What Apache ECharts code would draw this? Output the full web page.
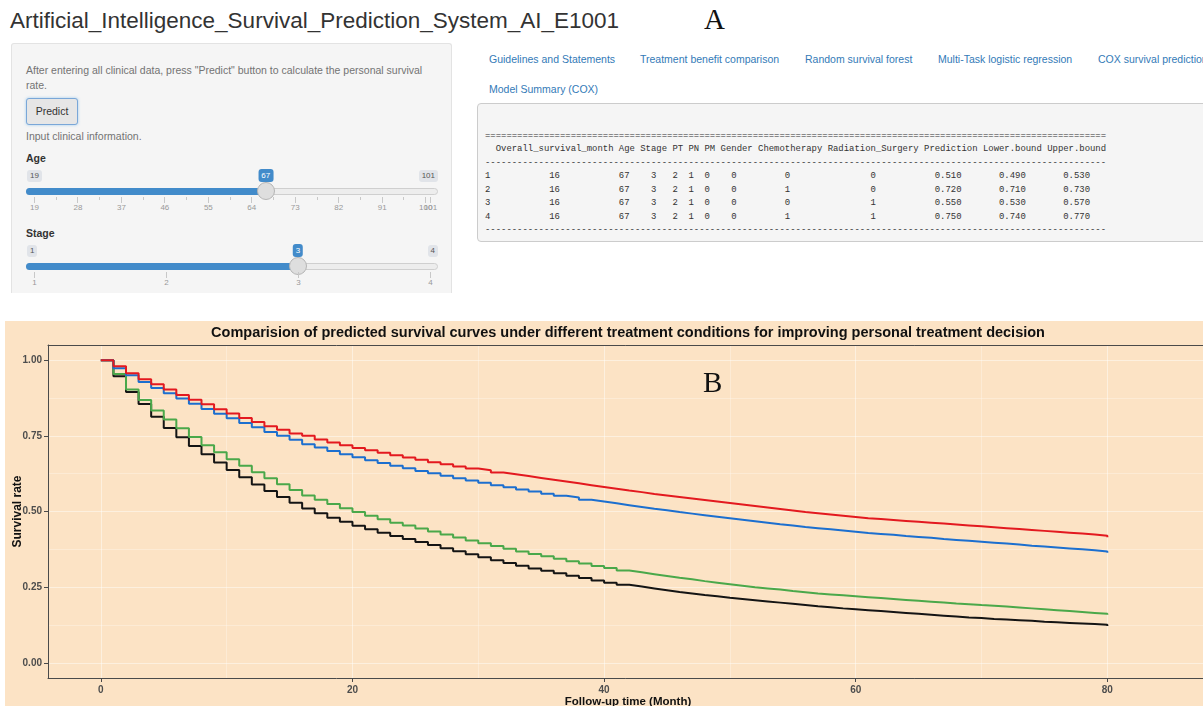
<!DOCTYPE html>
<html><head><meta charset="utf-8">
<script src="https://cdn.jsdelivr.net/npm/echarts@6/dist/echarts.min.js"></script>
<style>
html,body{margin:0;padding:0;background:#fff;width:1203px;height:706px;overflow:hidden;font-family:"Liberation Sans",Arial,sans-serif;}
.abs{position:absolute;white-space:nowrap;}
#pageTitle{left:10px;top:6px;font-size:22.5px;color:#333;line-height:30px;}
.letter{font-family:"Liberation Serif","Times New Roman",serif;font-size:29px;color:#111;line-height:32px;}
#well{left:11px;top:43px;width:441px;height:250px;background:#f5f5f5;border:1px solid #e3e3e3;border-bottom:none;border-radius:3px 3px 0 0;box-sizing:border-box;}
.help{color:#737373;font-size:10.5px;line-height:15px;}
.lbl{color:#333;font-size:10.5px;font-weight:bold;line-height:14px;}
#predict{left:26px;top:98px;width:52px;height:27px;box-sizing:border-box;border:1px solid #7aa7d8;border-radius:3px;background:#e6e6e6;color:#333;font-size:10.5px;line-height:25px;text-align:center;box-shadow:0 0 3px rgba(102,175,233,.6);}
.tab{color:#337ab7;font-size:10.5px;line-height:14px;}
#out{left:477px;top:103px;width:760px;height:139px;background:#f5f5f5;border:1px solid #ccc;border-radius:4px;box-sizing:border-box;}
#pre{left:485px;top:129.5px;margin:0;font-family:"Liberation Mono","DejaVu Sans Mono",monospace;font-size:8.93px;line-height:13.5px;color:#333;white-space:pre;}
.sl-line{position:absolute;height:7px;background:#ededed;border:1px solid #cfcfcf;border-radius:4px;box-sizing:border-box;}
.sl-bar{position:absolute;height:7px;background:#428bca;border-radius:4px 0 0 4px;}
.sl-handle{position:absolute;width:18px;height:18px;border-radius:50%;background:#dedede;border:1px solid #b5b5b5;box-sizing:border-box;}
.sl-box{position:absolute;font-size:8px;line-height:12px;padding:0 3px;border-radius:3px;background:#e1e4e9;color:#555;}
.sl-val{background:#428bca;color:#fff;line-height:13px;}
.sl-tick{position:absolute;width:1px;background:#c8c8c8;}
.sl-glbl{position:absolute;font-size:8px;line-height:10px;color:#999;transform:translateX(-50%);}
#chart{position:absolute;left:5px;top:321px;width:1198px;height:385px;}
</style></head>
<body>
<div id="pageTitle" class="abs">Artificial_Intelligence_Survival_Prediction_System_AI_E1001</div>
<div class="abs letter" style="left:704px;top:3px;">A</div>
<div id="well" class="abs"></div>
<div class="abs help" style="left:26px;top:62.5px;">After entering all clinical data, press "Predict" button to calculate the personal survival<br>rate.</div>
<div id="predict" class="abs">Predict</div>
<div class="abs help" style="left:26px;top:128.5px;">Input clinical information.</div>
<div class="abs lbl" style="left:26px;top:151px;">Age</div>
<div class="abs lbl" style="left:26px;top:226px;">Stage</div>
<div id="sliders"></div>
<div id="tabs"></div>
<div id="out" class="abs"></div>
<pre id="pre" class="abs"></pre>
<div id="chart"></div>
<script>
// ---------------- panel A data ----------------
const tabNames = ["Guidelines and Statements","Treatment benefit comparison","Random survival forest","Multi-Task logistic regression","COX survival prediction","Model Summary (COX)"];
const ageRange = [19, 101];
const ageValue = 67;
const ageGrid = [19, 28, 37, 46, 55, 64, 73, 82, 91, 100, 101];
const stageRange = [1, 4];
const stageValue = 3;
const stageGrid = [1, 2, 3, 4];
const tableColumns = ["Overall_survival_month","Age","Stage","PT","PN","PM","Gender","Chemotherapy","Radiation_Surgery","Prediction","Lower.bound","Upper.bound"];
const tableRow1 = ["16","67","3","2","1","0","0","0","0","0.510","0.490","0.530"];
const tableRow2 = ["16","67","3","2","1","0","0","1","0","0.720","0.710","0.730"];
const tableRow3 = ["16","67","3","2","1","0","0","0","1","0.550","0.530","0.570"];
const tableRow4 = ["16","67","3","2","1","0","0","1","1","0.750","0.740","0.770"];

// ---------------- panel B data ----------------
const chartTitle = "Comparision of predicted survival curves under different treatment conditions for improving personal treatment decision";
const xTickLabels = [0, 20, 40, 60, 80];
const yTickLabels = [0, 0.25, 0.5, 0.75, 1];
const xMinorGrid = [10, 30, 50, 70];
const yMinorGrid = [0.125, 0.375, 0.625, 0.875];
const months = [0,1,2,3,4,5,6,7,8,9,10,11,12,13,14,15,16,17,18,19,20,21,22,23,24,25,26,27,28,29,30,31,32,33,34,35,36,37,38,39,40,41,42,43,44,45,46,47,48,49,50,51,52,53,54,55,56,57,58,59,60,61,62,63,64,65,66,67,68,69,70,71,72,73,74,75,76,77,78,79,80];
// Chemotherapy=0, Radiation_Surgery=0
const survNone = [1.000,.947,.895,.855,.813,.776,.745,.716,.689,.662,.637,.613,.589,.568,.548,.529,.510,.494,.479,.466,.453,.441,.430,.419,.409,.399,.389,.379,.369,.359,.349,.339,.330,.321,.312,.304,.296,.288,.280,.272,.265,.258,.252,.246,.240,.234,.229,.224,.220,.215,.211,.207,.203,.199,.195,.191,.187,.184,.180,.177,.174,.171,.168,.165,.162,.159,.156,.153,.150,.148,.145,.143,.141,.139,.136,.134,.132,.130,.128,.126,.122];
// Chemotherapy=0, Radiation_Surgery=1
const survRadiation = [1.000,.954,.903,.868,.834,.804,.775,.746,.719,.696,.673,.651,.630,.610,.590,.571,.553,.539,.525,.511,.498,.486,.474,.463,.454,.444,.434,.424,.414,.404,.395,.386,.377,.368,.360,.352,.344,.336,.328,.320,.313,.305,.299,.293,.287,.281,.276,.270,.265,.260,.255,.250,.246,.242,.237,.233,.229,.226,.223,.220,.217,.214,.211,.208,.205,.202,.199,.196,.194,.191,.189,.186,.183,.180,.177,.174,.171,.168,.165,.162,.159];
// Chemotherapy=1, Radiation_Surgery=0
const survChemo = [1.000,.973,.950,.928,.908,.891,.873,.856,.839,.823,.808,.792,.778,.763,.750,.737,.722,.711,.700,.689,.679,.669,.660,.651,.643,.634,.626,.618,.610,.602,.595,.587,.580,.573,.566,.559,.552,.546,.539,.533,.527,.521,.515,.509,.504,.498,.493,.488,.483,.478,.473,.468,.463,.458,.454,.449,.445,.441,.437,.433,.429,.426,.423,.419,.416,.413,.409,.406,.403,.400,.397,.394,.391,.387,.384,.381,.378,.375,.372,.368,.364];
// Chemotherapy=1, Radiation_Surgery=1
const survBoth = [1.000,.980,.957,.937,.920,.903,.885,.869,.854,.838,.824,.809,.796,.782,.770,.758,.750,.738,.728,.719,.710,.702,.694,.686,.678,.671,.663,.656,.649,.642,.636,.629,.623,.617,.611,.605,.599,.593,.587,.581,.575,.569,.564,.558,.553,.548,.543,.538,.533,.528,.523,.518,.513,.508,.503,.498,.494,.490,.486,.482,.478,.475,.472,.469,.466,.463,.460,.457,.454,.451,.448,.445,.442,.439,.436,.433,.430,.427,.424,.420,.415];

// ---------------- build panel A ----------------
(function(){
  const tabPos = [[489,52],[640,52],[805,52],[938,52],[1098,52],[489,82]];
  const tabs = document.getElementById('tabs');
  tabNames.forEach((t,i)=>{
    const d=document.createElement('div'); d.className='abs tab';
    d.style.left=tabPos[i][0]+'px'; d.style.top=tabPos[i][1]+'px'; d.textContent=t; tabs.appendChild(d);
  });

  function center(v,w){ const l=Math.floor((w-v.length)/2); return ' '.repeat(l)+v+' '.repeat(w-v.length-l); }
  const header = '  ' + tableColumns.join(' ');
  const rows = [tableRow1,tableRow2,tableRow3,tableRow4].map((r,i)=> (i+1)+' '+r.map((v,j)=>center(v,tableColumns[j].length)).join(' '));
  const lines = ['='.repeat(header.length), header, '-'.repeat(header.length)].concat(rows).concat(['-'.repeat(header.length)]);
  document.getElementById('pre').textContent = lines.join('\n');

  const host = document.getElementById('sliders');
  function slider(range, value, grid, barY, minorPer){
    const x0=34, x1=430;
    const px = v => x0 + (v-range[0])/(range[1]-range[0])*(x1-x0);
    let h='';
    h+=`<div class="sl-line" style="left:26px;top:${barY-3.5}px;width:412px;"></div>`;
    h+=`<div class="sl-bar" style="left:26px;top:${barY-3.5}px;width:${px(value)-26}px;"></div>`;
    h+=`<div class="sl-handle" style="left:${px(value)-9}px;top:${barY-9}px;"></div>`;
    h+=`<div class="sl-box" style="left:27px;top:${barY-21}px;">${range[0]}</div>`;
    h+=`<div class="sl-box" style="right:${1203-438}px;top:${barY-21}px;">${range[1]}</div>`;
    h+=`<div class="sl-box sl-val" style="left:${px(value)}px;top:${barY-22}px;transform:translateX(-50%);">${value}</div>`;
    grid.forEach((g,i)=>{
      h+=`<div class="sl-tick" style="left:${px(g)}px;top:${barY+6}px;height:6px;"></div>`;
      h+=`<div class="sl-glbl" style="left:${px(g)+0.5}px;top:${barY+12}px;">${g}</div>`;
      if(i<grid.length-1 && grid[i+1]-g>2){
        for(let k=1;k<=minorPer;k++){
          const v=g+(grid[i+1]-g)*k/(minorPer+1);
          h+=`<div class="sl-tick" style="left:${px(v)}px;top:${barY+6}px;height:3px;"></div>`;
        }
      }
    });
    host.insertAdjacentHTML('beforeend',h);
  }
  slider(ageRange, ageValue, ageGrid, 191, 1);
  slider(stageRange, stageValue, stageGrid, 266, 4);
})();

// ---------------- panel B chart ----------------
const chart = echarts.init(document.getElementById('chart'), null, {renderer:'canvas'});
const font = '"Liberation Sans", Arial, sans-serif';
const axisCol = '#4a4a4a';
const majorGrid = {show:true, lineStyle:{color:'rgba(255,255,255,0.45)', width:1}};
const minorGridStyle = {show:true, lineStyle:{color:'rgba(255,255,255,0.28)', width:1}};
const pair = arr => months.map((m,i)=>[m, arr[i]]);
const mk = (name, arr, color) => ({
  name, type:'line', step:'end', data: pair(arr), showSymbol:false, symbol:'none',
  lineStyle:{color, width:2}, itemStyle:{color}, xAxisIndex:0, yAxisIndex:0, animation:false
});
chart.setOption({
  backgroundColor:'#FCE3C5',
  animation:false,
  textStyle:{fontFamily:font},
  grid:{left:43, top:24, width:1160, height:333, containLabel:false, outerBoundsMode:'none'},
  xAxis:[{
    type:'value', min:-4.2, max:88, position:'bottom',
    axisLine:{show:true, onZero:false, lineStyle:{color:axisCol, width:1}},
    axisTick:{show:true, customValues:xTickLabels, length:4, lineStyle:{color:axisCol}},
    axisLabel:{customValues:xTickLabels, margin:7, color:'#4d4d4d', fontSize:10, fontWeight:'bold', fontFamily:font},
    splitLine:majorGrid,
    name:'Follow-up time (Month)', nameLocation:'middle', nameGap:18, nameMoveOverlap:false,
    nameTextStyle:{color:'#111', fontSize:11.5, fontWeight:'bold', fontFamily:font}
  },{
    type:'value', min:-4.2, max:88, position:'top',
    axisLine:{show:true, onZero:false, lineStyle:{color:axisCol, width:1}},
    axisTick:{show:false, customValues:xMinorGrid},
    axisLabel:{show:false},
    splitLine:minorGridStyle,
    name:chartTitle, nameLocation:'middle', nameGap:5, nameMoveOverlap:false,
    nameTextStyle:{color:'#111', fontSize:14.5, fontWeight:'bold', fontFamily:font}
  }],
  yAxis:[{
    type:'value', min:-0.05, max:1.05,
    axisLine:{show:true, onZero:false, lineStyle:{color:axisCol, width:1}},
    axisTick:{show:true, customValues:yTickLabels, length:4, lineStyle:{color:axisCol}},
    axisLabel:{customValues:yTickLabels, margin:6, color:'#4d4d4d', fontSize:10, fontWeight:'bold', fontFamily:font, formatter:v=>Number(v).toFixed(2)},
    splitLine:majorGrid,
    name:'Survival rate', nameLocation:'middle', nameGap:24, nameRotate:90, nameMoveOverlap:false,
    nameTextStyle:{color:'#111', fontSize:12, fontWeight:'bold', fontFamily:font}
  },{
    type:'value', min:-0.05, max:1.05, position:'right',
    axisLine:{show:false}, axisTick:{show:false, customValues:yMinorGrid}, axisLabel:{show:false},
    splitLine:minorGridStyle
  }],
  graphic:[{type:'text', left:698, top:49, style:{text:'B', font:'29px "Liberation Serif", "Times New Roman", serif', fill:'#111'}}],
  series:[
    mk('Chemotherapy 0 / Radiation_Surgery 0', survNone, '#141414'),
    mk('Chemotherapy 0 / Radiation_Surgery 1', survRadiation, '#4AA84A'),
    mk('Chemotherapy 1 / Radiation_Surgery 0', survChemo, '#1C6FCF'),
    mk('Chemotherapy 1 / Radiation_Surgery 1', survBoth, '#E3191F')
  ]
});
</script>
</body></html>
